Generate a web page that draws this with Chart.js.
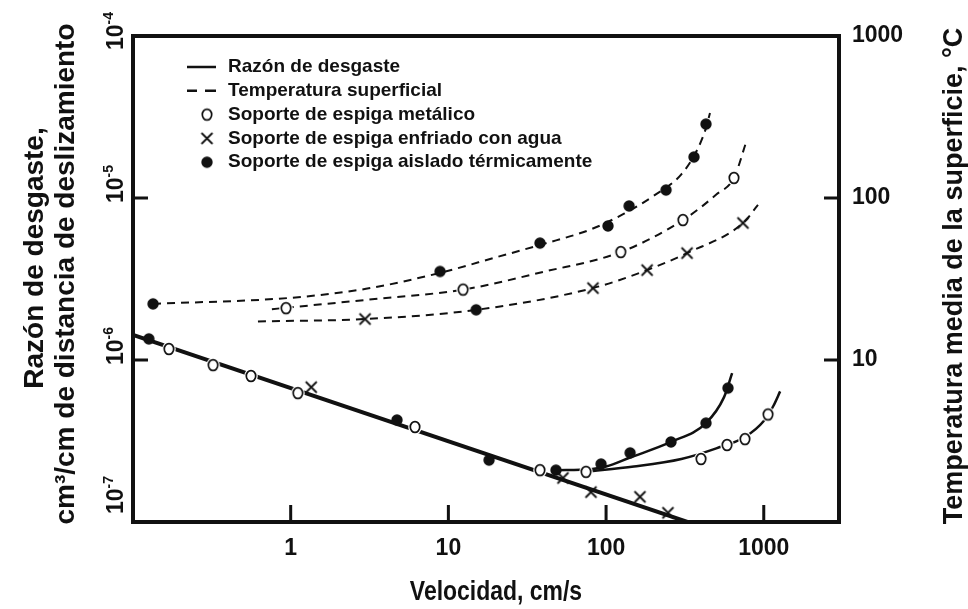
<!DOCTYPE html>
<html lang="es">
<head>
<meta charset="utf-8">
<title>Razón de desgaste y temperatura superficial frente a la velocidad</title>
<script src="https://cdn.jsdelivr.net/npm/chart.js@4.4.1/dist/chart.umd.min.js"></script>
<style>
  html, body { margin: 0; padding: 0; background: #fff; }
  canvas { display: block; }
</style>
</head>
<body>
<canvas id="chart" width="968" height="609"></canvas>
<script>
// Sliding velocity (cm/s) against wear rate (cm³/cm, left) and mean surface temperature (°C, right)

// Axis tick values
const velocityTicks = [1, 10, 100, 1000];
const wearTicks = [1e-7, 1e-6, 1e-5, 1e-4];
const tempTicks = [10, 100, 1000];

// Wear rate, fitted lines: [velocity, rate]
const wearLine = [[0.1, 1.43e-6], [350, 9.8e-8]];
const insulatedWearCurve = [[48, 2.09e-7], [80, 2.12e-7], [100, 2.2e-7], [142, 2.5e-7], [258, 3.12e-7], [430, 4.08e-7], [560, 5.9e-7], [630, 8.3e-7]];
const metalWearCurve = [[75, 2.05e-7], [150, 2.2e-7], [300, 2.45e-7], [500, 2.85e-7], [760, 3.35e-7], [1000, 4.2e-7], [1150, 5.2e-7], [1270, 6.4e-7]];

// Wear rate, measured points: [velocity, rate]
const metalWear = [[0.169, 1.17e-6], [0.322, 9.3e-7], [0.56, 7.97e-7], [1.11, 6.25e-7], [6.14, 3.86e-7], [38.1, 2.09e-7], [74.6, 2.04e-7], [400, 2.45e-7], [585, 2.99e-7], [760, 3.25e-7], [1064, 4.61e-7]];
const waterWear = [[1.35, 6.8e-7], [53.3, 1.87e-7], [80.2, 1.53e-7], [164, 1.43e-7], [247, 1.14e-7]];
const insulatedWear = [[0.126, 1.35e-6], [4.72, 4.26e-7], [18.1, 2.41e-7], [48.1, 2.09e-7], [92.9, 2.28e-7], [142, 2.67e-7], [258, 3.12e-7], [430, 4.08e-7], [593, 6.71e-7]];

// Surface temperature, fitted curves: [velocity, °C]
const insulatedTempCurve = [[0.134, 22.2], [1, 24.2], [3, 27.5], [8.85, 34.5], [20, 43], [40, 52], [80, 64], [130, 80], [200, 103], [300, 140], [380, 200], [430, 270], [456, 335]];
const metalTempCurve = [[0.76, 20.6], [3, 23.5], [12.4, 27.2], [40, 35], [124, 46.4], [307, 73], [500, 105], [647, 133], [771, 219]];
const waterTempCurve = [[0.62, 17.3], [2.96, 17.9], [15, 20.4], [82.6, 27.8], [182, 35.9], [326, 45.7], [738, 70], [919, 90.6]];

// Surface temperature, measured points: [velocity, °C]
const metalTemp = [[0.934, 20.9], [12.4, 27.2], [124, 46.4], [307, 73.1], [647, 133]];
const waterTemp = [[2.96, 17.9], [82.6, 27.8], [182, 35.9], [326, 45.7], [738, 70.1]];
const insulatedTemp = [[0.134, 22.2], [8.85, 35.2], [15, 20.4], [38.1, 52.7], [102.8, 67.2], [140, 89.3], [240, 112], [361, 179], [430, 286]];

// Text
const legendLabels = [
  'Razón de desgaste',
  'Temperatura superficial',
  'Soporte de espiga metálico',
  'Soporte de espiga enfriado con agua',
  'Soporte de espiga aislado térmicamente'
];
const xTitle = 'Velocidad, cm/s';
const leftTitle = ['Razón de desgaste,', 'cm³/cm de distancia de deslizamiento'];
const rightTitle = 'Temperatura media de la superficie, °C';

const FONT = '"Liberation Sans", Arial, Helvetica, sans-serif';
const INK = '#111';

const toXY = arr => arr.map(([x, y]) => ({ x, y }));

// Marker glyphs
function openMarker() {
  const c = document.createElement('canvas');
  c.width = 16; c.height = 18;
  const g = c.getContext('2d');
  g.fillStyle = '#fff';
  g.beginPath(); g.ellipse(8, 9, 6.8, 7.6, 0, 0, Math.PI * 2); g.fill();
  g.strokeStyle = INK; g.lineWidth = 1.7;
  g.beginPath(); g.ellipse(8, 9, 4.7, 5.4, 0, 0, Math.PI * 2); g.stroke();
  return c;
}
function crossMarker() {
  const c = document.createElement('canvas');
  c.width = 15; c.height = 15;
  const g = c.getContext('2d');
  g.strokeStyle = INK; g.lineWidth = 1.8;
  g.beginPath();
  g.moveTo(2, 2); g.lineTo(13, 13);
  g.moveTo(13, 2); g.lineTo(2, 13);
  g.stroke();
  return c;
}
function dotMarker() {
  const c = document.createElement('canvas');
  c.width = 14; c.height = 14;
  const g = c.getContext('2d');
  g.fillStyle = INK;
  g.beginPath(); g.arc(7, 7, 5.7, 0, Math.PI * 2); g.fill();
  return c;
}
const OPEN = openMarker(), CROSS = crossMarker(), DOT = dotMarker();

function curve(data, axis, width, dash) {
  return {
    data: toXY(data), yAxisID: axis, showLine: true, pointRadius: 0,
    borderColor: INK, borderWidth: width, borderDash: dash || [],
    cubicInterpolationMode: 'monotone', order: 2
  };
}
function markers(data, axis, style) {
  return {
    data: toXY(data), yAxisID: axis, showLine: false,
    pointStyle: style, pointRadius: 5, order: 0
  };
}

const datasets = [
  curve(wearLine, 'y', 4),
  curve(insulatedWearCurve, 'y', 2.5),
  curve(metalWearCurve, 'y', 2.5),
  curve(insulatedTempCurve, 'y2', 2, [8, 6]),
  curve(metalTempCurve, 'y2', 2, [8, 6]),
  curve(waterTempCurve, 'y2', 2, [8, 6]),
  markers(metalWear, 'y', OPEN),
  markers(waterWear, 'y', CROSS),
  markers(insulatedWear, 'y', DOT),
  markers(metalTemp, 'y2', OPEN),
  markers(waterTemp, 'y2', CROSS),
  markers(insulatedTemp, 'y2', DOT)
];

function setTicks(values) {
  return axis => { axis.ticks = values.map(v => ({ value: v })); };
}

function vText(ctx, text, x, y, font) {
  ctx.save();
  ctx.translate(x, y);
  ctx.rotate(-Math.PI / 2);
  ctx.font = font;
  ctx.textAlign = 'center';
  ctx.textBaseline = 'middle';
  ctx.fillText(text, 0, 0);
  ctx.restore();
}

const decorations = {
  id: 'decorations',
  beforeDraw(chart) {
    const ctx = chart.ctx;
    ctx.save();
    ctx.fillStyle = '#fff';
    ctx.fillRect(0, 0, chart.width, chart.height);
    ctx.restore();
  },
  afterDatasetsDraw(chart) {
    const { ctx, chartArea: a, scales } = chart;
    ctx.save();
    ctx.strokeStyle = INK;
    ctx.fillStyle = INK;
    ctx.lineCap = 'butt';

    // inward tick marks
    ctx.lineWidth = 3;
    ctx.beginPath();
    velocityTicks.forEach(v => {
      const x = scales.x.getPixelForValue(v);
      ctx.moveTo(x, a.bottom); ctx.lineTo(x, a.bottom - 17);
    });
    wearTicks.slice(1, -1).forEach(v => {
      const y = scales.y.getPixelForValue(v);
      ctx.moveTo(a.left, y); ctx.lineTo(a.left + 15, y);
    });
    tempTicks.slice(0, -1).forEach(v => {
      const y = scales.y2.getPixelForValue(v);
      ctx.moveTo(a.right, y); ctx.lineTo(a.right - 15, y);
    });
    ctx.stroke();

    // plot frame
    ctx.lineWidth = 4;
    ctx.strokeRect(a.left, a.top, a.right - a.left, a.bottom - a.top);

    // left axis labels: powers of ten, reading upward
    const big = 'bold 23px ' + FONT, small = 'bold 14px ' + FONT;
    wearTicks.forEach(v => {
      const exp = String(Math.round(Math.log10(v)));
      ctx.font = big; const w1 = ctx.measureText('10').width;
      ctx.font = small; const w2 = ctx.measureText(exp).width;
      const len = w1 + w2;
      let cy = scales.y.getPixelForValue(v) - 14;
      cy = Math.max(cy, 12 + len / 2);
      cy = Math.min(cy, a.bottom - 8 - len / 2);
      ctx.save();
      ctx.translate(123, cy);
      ctx.rotate(-Math.PI / 2);
      ctx.textAlign = 'left';
      ctx.textBaseline = 'alphabetic';
      ctx.font = big; ctx.fillText('10', -len / 2, 0);
      ctx.font = small; ctx.fillText(exp, -len / 2 + w1, -10);
      ctx.restore();
    });

    // axis titles
    const titleFont = 'bold 28px ' + FONT;
    vText(ctx, leftTitle[0], 35, 258, titleFont);
    vText(ctx, leftTitle[1], 66, 274, titleFont);
    vText(ctx, rightTitle, 955, 276, 'bold 27px ' + FONT);

    // bottom title in a condensed face
    ctx.save();
    ctx.translate((a.left + a.right) / 2 + 10, chart.height - 17);
    ctx.scale(0.82, 1);
    ctx.font = 'bold 28px ' + FONT;
    ctx.textAlign = 'center';
    ctx.textBaseline = 'middle';
    ctx.fillText(xTitle, 0, 0);
    ctx.restore();

    // legend
    const lx = a.left + 54, tx = a.left + 95;
    const rowY = i => a.top + 31 + i * 23.8;
    ctx.lineWidth = 2.5;
    ctx.beginPath();
    ctx.moveTo(lx, rowY(0)); ctx.lineTo(lx + 29, rowY(0));
    ctx.moveTo(lx, rowY(1)); ctx.lineTo(lx + 10, rowY(1));
    ctx.moveTo(lx + 18, rowY(1)); ctx.lineTo(lx + 29, rowY(1));
    ctx.stroke();
    [OPEN, CROSS, DOT].forEach((img, k) => {
      ctx.drawImage(img, lx + 20 - img.width / 2, rowY(k + 2) - img.height / 2);
    });
    ctx.font = 'bold 19px ' + FONT;
    ctx.textAlign = 'left';
    ctx.textBaseline = 'middle';
    legendLabels.forEach((t, i) => ctx.fillText(t, tx, rowY(i)));
    ctx.restore();
  }
};

const tickFont = { family: FONT, size: 23, weight: 'bold' };

new Chart(document.getElementById('chart'), {
  type: 'scatter',
  data: { datasets },
  options: {
    responsive: false,
    animation: false,
    events: [],
    layout: { padding: { top: 36, left: 0, right: 0, bottom: 0 } },
    plugins: { legend: { display: false }, tooltip: { enabled: false } },
    scales: {
      x: {
        type: 'logarithmic', min: 0.1, max: 3000,
        grid: { display: false, drawTicks: false, tickLength: 0 },
        border: { display: false },
        afterBuildTicks: setTicks(velocityTicks),
        afterFit: s => { s.height = 87; },
        ticks: { color: INK, font: tickFont, padding: 13, autoSkip: false, maxRotation: 0, callback: v => String(v) }
      },
      y: {
        type: 'logarithmic', position: 'left', min: 1e-7, max: 1e-4,
        grid: { display: false, drawTicks: false, tickLength: 0 },
        border: { display: false },
        ticks: { display: false },
        afterBuildTicks: setTicks(wearTicks),
        afterFit: s => { s.width = 133; }
      },
      y2: {
        type: 'logarithmic', position: 'right', min: 1, max: 1000,
        grid: { display: false, drawTicks: false, tickLength: 0 },
        border: { display: false },
        afterBuildTicks: setTicks(tempTicks),
        afterFit: s => { s.width = 129; },
        ticks: { color: INK, font: tickFont, padding: 13, autoSkip: false, callback: v => String(v) }
      }
    }
  },
  plugins: [decorations]
});
</script>
</body>
</html>
